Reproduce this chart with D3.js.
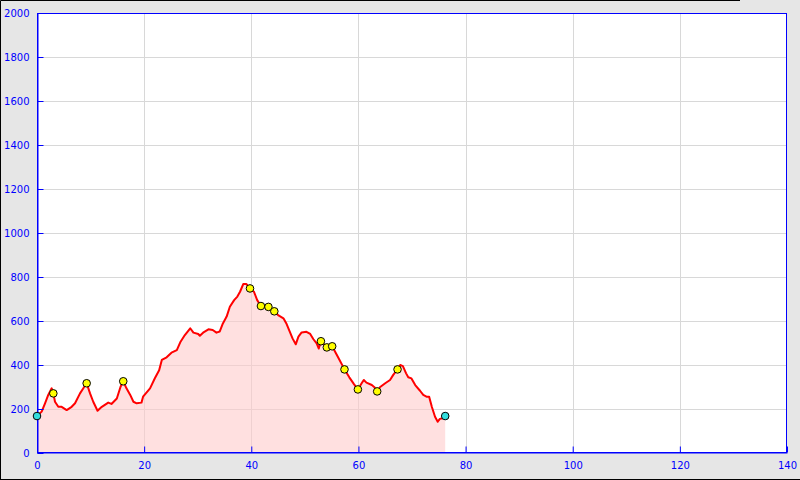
<!DOCTYPE html>
<html><head><meta charset="utf-8">
<script src="https://cdn.jsdelivr.net/npm/d3@7"></script>
<style>html,body{margin:0;padding:0;background:#e6e6e6;}svg{display:block;}</style>
</head><body>
<svg id="c" width="800" height="480"></svg>
<script>
// Elevation profile: distance (km) and elevation (m)
const distKm = [0,0.87,1.5,2.1,2.74,3.05,3.36,3.98,4.6,5.54,6.47,7.1,8.03,8.65,9.27,9.9,10.5,11.3,12.1,13.3,13.9,14.9,15.6,16.1,16.7,17.4,18.0,18.6,19.5,19.8,21.1,22.0,22.8,23.3,24.2,25.1,26.1,26.8,27.6,28.6,29.2,30.1,30.4,31.0,32.0,32.8,33.5,34.1,34.7,35.4,36.0,36.8,37.4,37.9,38.5,39.1,39.76,40.5,41.1,41.8,43.2,44.3,45.0,46.0,46.6,47.2,47.7,48.3,48.8,49.4,50.3,51.0,51.6,52.2,52.6,53.0,54.1,55.1,55.8,56.4,57.4,58.3,59.2,59.9,60.6,61.0,61.5,62.5,63.1,63.5,64.0,65.0,65.9,66.5,67.3,67.8,68.3,68.9,69.3,69.9,70.6,71.5,72.1,72.7,73.2,73.7,74.3,74.8,75.2,75.7,76.2];
const elevM = [168,188,226,264,294,271,233,210,210,195,210,226,271,294,317,271,233,192,210,229,223,248,301,326,294,264,233,226,229,256,294,340,376,423,435,456,468,506,536,567,547,541,533,547,562,559,547,552,589,620,665,695,711,733,768,768,748,733,695,668,664,644,627,612,586,551,521,494,529,548,551,541,517,498,475,508,480,485,453,426,380,344,312,289,317,332,320,309,297,280,299,317,332,355,380,400,395,362,344,339,309,283,264,256,256,210,165,142,155,158,168];
// Waypoints
const wpKm = [3.05,9.27,16.1,39.76,41.8,43.2,44.3,53.0,54.1,55.1,57.4,59.9,63.5,67.3];
const wpElev = [271,317,326,748,668,664,644,508,480,485,380,289,280,380];
const endKm = [0,76.2];
const endElev = [168,168];
const xTicks = [0,20,40,60,80,100,120,140];
const yTicks = [0,200,400,600,800,1000,1200,1400,1600,1800,2000];

const svg = d3.select("#c");
const L=37,R=787,T=13,B=453;
const x = d3.scaleLinear().domain([0,140]).range([L,R]);
const y = d3.scaleLinear().domain([0,2000]).range([B,T]);

svg.append("rect").attr("x",0).attr("y",0).attr("width",800).attr("height",480).attr("fill","#e6e6e6");
svg.append("path").attr("d","M0.5,480V0.5H740M0,479.5H800").attr("stroke","#000").attr("fill","none");
svg.append("rect").attr("x",L).attr("y",T).attr("width",R-L).attr("height",B-T).attr("fill","#fff");

// grid
svg.append("g").selectAll("line").data(yTicks.slice(1,-1)).join("line")
  .attr("x1",L).attr("x2",R).attr("y1",d=>Math.round(y(d))+0.5).attr("y2",d=>Math.round(y(d))+0.5)
  .attr("stroke","#d8d8d8");
svg.append("g").selectAll("line").data(xTicks.slice(1,-1)).join("line")
  .attr("y1",T).attr("y2",B).attr("x1",d=>Math.round(x(d))+0.5).attr("x2",d=>Math.round(x(d))+0.5)
  .attr("stroke","#d8d8d8");

const pts = distKm.map((d,i)=>[d,elevM[i]]);
svg.append("path").datum(pts)
  .attr("d",d3.area().x(d=>x(d[0])).y0(B).y1(d=>y(d[1])))
  .attr("fill","#ffcccc").attr("fill-opacity",0.6);
svg.append("path").datum(pts)
  .attr("d",d3.line().x(d=>x(d[0])).y(d=>y(d[1])))
  .attr("fill","none").attr("stroke","#ff0000").attr("stroke-width",2).attr("stroke-linejoin","round");

// frame
svg.append("rect").attr("x",L+0.5).attr("y",T+0.5).attr("width",R-L-1).attr("height",B-T-1)
  .attr("fill","none").attr("stroke","#0000ff");

// axes
const fmt = d3.format("d");
const yAxis = d3.axisLeft(y).tickValues(yTicks).tickFormat(fmt).tickSizeInner(-6).tickSizeOuter(0).tickPadding(14);
const gy = svg.append("g").attr("transform",`translate(${L+0.5},0)`).call(yAxis);
const xAxis = d3.axisBottom(x).tickValues(xTicks).tickFormat(fmt).tickSizeInner(-6).tickSizeOuter(0).tickPadding(14);
const gx = svg.append("g").attr("transform",`translate(0,${B-0.5})`).call(xAxis);
[gx,gy].forEach(g=>{
  g.select(".domain").attr("stroke","#0000ff");
  g.selectAll(".tick line").attr("stroke","#0000ff");
  g.selectAll("text").attr("fill","#0000ff").attr("font-family","DejaVu Sans, Verdana, sans-serif").attr("font-size","10px");
});
gy.selectAll("text").attr("x",-8);
gx.selectAll("text").attr("y",9);

// waypoints
svg.append("g").selectAll("circle").data(wpKm.map((d,i)=>[d,wpElev[i]])).join("circle")
  .attr("cx",d=>x(d[0])).attr("cy",d=>y(d[1])).attr("r",3.8)
  .attr("fill","#ffff00").attr("stroke","#000").attr("stroke-width",1);
svg.append("g").selectAll("circle").data(endKm.map((d,i)=>[d,endElev[i]])).join("circle")
  .attr("cx",d=>x(d[0])).attr("cy",d=>y(d[1])).attr("r",3.8)
  .attr("fill","#33dddd").attr("stroke","#000").attr("stroke-width",1);
</script>
</body></html>
